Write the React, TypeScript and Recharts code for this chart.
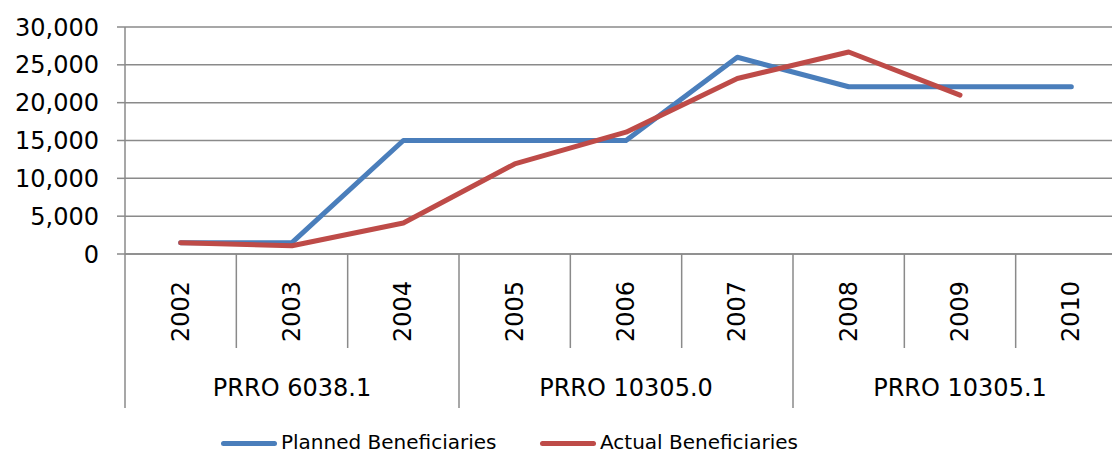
import { LineChart, Line, XAxis, YAxis, CartesianGrid } from 'recharts';

const years = ['2002', '2003', '2004', '2005', '2006', '2007', '2008', '2009', '2010'];
const projects = ['PRRO 6038.1', 'PRRO 10305.0', 'PRRO 10305.1'];
const planned = [1500, 1500, 15000, 15000, 15000, 26000, 22100, 22100, 22100];
const actual: (number | null)[] = [1500, 1100, 4100, 11900, 16100, 23200, 26700, 21000, null];
const yTicks = [0, 5000, 10000, 15000, 20000, 25000, 30000];

const data = years.map((year, i) => ({
  year,
  planned: planned[i],
  actual: actual[i],
}));

const FONT = '"DejaVu Sans", Verdana, sans-serif';
const GRID = '#8a8a8a';
const BLUE = '#4A7EBB';
const RED = '#BE4B48';

const CHART_W = 1130;
const CHART_H = 455;
const Y_AXIS_W = 125;
const MARGIN = { top: 27, right: 3, bottom: 41, left: 0 };
const X_AXIS_H = 160;
const PLOT_W = CHART_W - Y_AXIS_W - MARGIN.left - MARGIN.right;
const BAND = PLOT_W / years.length;
const AXIS_Y = CHART_H - MARGIN.bottom - X_AXIS_H;

const YearTick = (props: any) => {
  const { x, index, payload } = props;
  const left = x - BAND / 2;
  const groupEdge = index % 3 === 0;
  return (
    <g>
      <line x1={left} x2={left} y1={AXIS_Y} y2={groupEdge ? 408 : 348} stroke={GRID} strokeWidth={1.5} />
      {index === years.length - 1 && (
        <line x1={x + BAND / 2} x2={x + BAND / 2} y1={AXIS_Y} y2={408} stroke={GRID} strokeWidth={1.5} />
      )}
      <text
        x={x}
        y={342}
        transform={`rotate(-90, ${x}, 342)`}
        textAnchor="start"
        dominantBaseline="central"
        fontSize={24}
        fontFamily={FONT}
        fill="#000"
      >
        {payload.value}
      </text>
      {index % 3 === 1 && (
        <text x={x} y={388} textAnchor="middle" dominantBaseline="central" fontSize={24} fontFamily={FONT} fill="#000">
          {projects[Math.floor(index / 3)]}
        </text>
      )}
    </g>
  );
};

const LegendItem = ({ left, color, label }: { left: number; color: string; label: string }) => (
  <div style={{ position: 'absolute', left, top: 431, height: 23, display: 'flex', alignItems: 'center' }}>
    <div style={{ width: 56, height: 5, borderRadius: 3, background: color, marginTop: 2 }} />
    <span style={{ marginLeft: 4, fontSize: 20, lineHeight: '23px', fontFamily: FONT, color: '#000', whiteSpace: 'nowrap' }}>
      {label}
    </span>
  </div>
);

export default function App() {
  return (
    <div style={{ position: 'absolute', left: 0, top: 0, width: 1112, height: 455, overflow: 'hidden', background: '#fff' }}>
      <LineChart width={CHART_W} height={CHART_H} data={data} margin={MARGIN}>
        <CartesianGrid vertical={false} stroke={GRID} strokeWidth={1.5} />
        <XAxis
          dataKey="year"
          scale="band"
          interval={0}
          height={X_AXIS_H}
          axisLine={{ stroke: GRID, strokeWidth: 1.5 }}
          tickLine={false}
          tick={<YearTick />}
        />
        <YAxis
          width={Y_AXIS_W}
          domain={[0, 30000]}
          ticks={yTicks}
          interval={0}
          tickFormatter={(v: number) => v.toLocaleString('en-US')}
          axisLine={{ stroke: GRID, strokeWidth: 1.5 }}
          tickLine={{ stroke: GRID, strokeWidth: 1.5 }}
          tickSize={8}
          tickMargin={18}
          tick={{ fill: '#000', fontSize: 24, fontFamily: FONT }}
        />
        <Line
          dataKey="planned"
          stroke={BLUE}
          strokeWidth={5}
          strokeLinecap="round"
          strokeLinejoin="round"
          dot={false}
          activeDot={false}
          isAnimationActive={false}
        />
        <Line
          dataKey="actual"
          stroke={RED}
          strokeWidth={5}
          strokeLinecap="round"
          strokeLinejoin="round"
          dot={false}
          activeDot={false}
          isAnimationActive={false}
        />
      </LineChart>
      <LegendItem left={221} color={BLUE} label="Planned Beneficiaries" />
      <LegendItem left={540} color={RED} label="Actual Beneficiaries" />
    </div>
  );
}
